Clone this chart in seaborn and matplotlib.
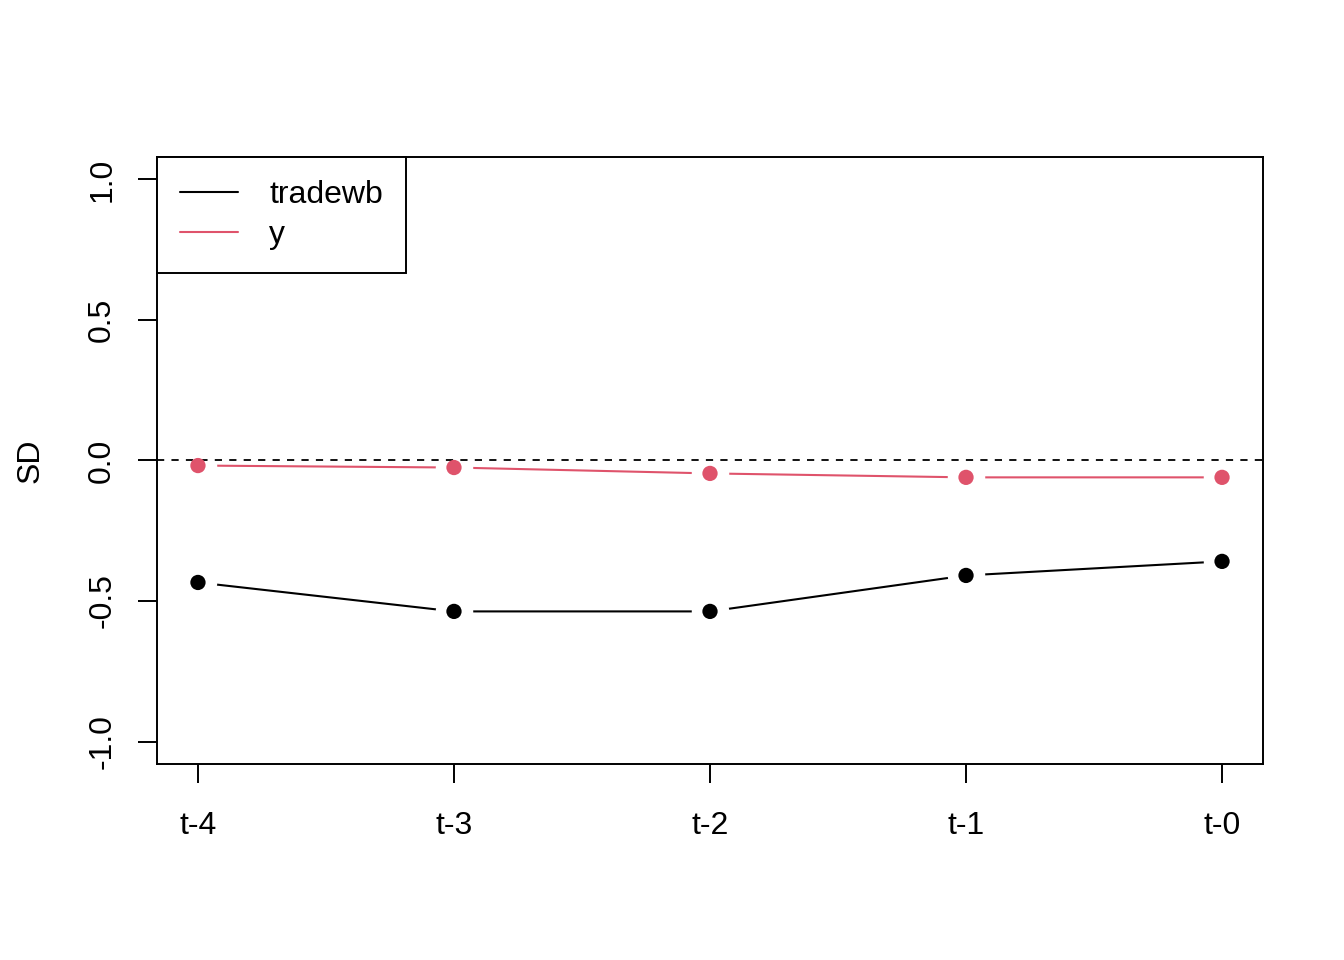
import matplotlib
matplotlib.use("Agg")
import matplotlib.pyplot as plt
import seaborn as sns
import pandas as pd
from matplotlib.lines import Line2D

periods = ["t-4", "t-3", "t-2", "t-1", "t-0"]
tradewb = [-0.434, -0.537, -0.537, -0.409, -0.359]
y_vals = [-0.018, -0.025, -0.046, -0.060, -0.060]
series_names = ["tradewb", "y"]
colors = ["#000000", "#DF536B"]
yticks = [-1.0, -0.5, 0.0, 0.5, 1.0]

sns.set_style("white")
plt.rcParams["font.family"] = ["Liberation Sans", "DejaVu Sans"]
plt.rcParams["text.color"] = "black"
plt.rcParams["axes.labelcolor"] = "black"
plt.rcParams["xtick.color"] = "black"
plt.rcParams["ytick.color"] = "black"
FS = 23

pos = list(range(1, len(periods) + 1))
df = pd.DataFrame({
    "x": pos * 2,
    "val": tradewb + y_vals,
    "series": [series_names[0]] * len(pos) + [series_names[1]] * len(pos),
})

fig = plt.figure(figsize=(13.44, 9.6), dpi=100)
ax = fig.add_axes([157 / 1344, 1 - 764 / 960, (1263 - 157) / 1344, (764 - 157) / 960])

palette = dict(zip(series_names, colors))
sns.lineplot(data=df, x="x", y="val", hue="series", palette=palette, ax=ax,
             linewidth=1.5, zorder=1, legend=False)
# white rings to create R type="b" gaps
sns.scatterplot(data=df, x="x", y="val", color="white", s=27 ** 2, ax=ax,
                linewidth=0, zorder=2, legend=False)
ax.axhline(0, color="black", linestyle=(0, (4, 4)), linewidth=1.3, zorder=3)
sns.scatterplot(data=df, x="x", y="val", hue="series", palette=palette, s=11 ** 2,
                ax=ax, linewidth=0, zorder=4, legend=False)

ax.set_xlim(0.84, 5.16)
ax.set_ylim(-1.08, 1.08)
ax.set_xticks(pos)
ax.set_xticklabels(periods, fontsize=FS)
ax.set_yticks(yticks)
ax.set_yticklabels([f"{v:.1f}" for v in yticks], fontsize=FS, rotation=90, va="center")
ax.tick_params(axis="both", direction="out", length=13.7, width=1.4, color="black",
               bottom=True, left=True, labelcolor="black")
ax.tick_params(axis="y", pad=15)
ax.tick_params(axis="x", pad=20.5)
ax.set_xlabel("")
ax.set_ylabel("SD", fontsize=FS, labelpad=30, color="black")
for sp in ax.spines.values():
    sp.set_color("black")
    sp.set_linewidth(1.4)

handles = [Line2D([], [], color=c, linewidth=1.5) for c in colors]
leg = ax.legend(handles, series_names, loc="upper left", fontsize=FS, frameon=True,
                fancybox=False, borderaxespad=0, handlelength=1.8, handletextpad=1.0,
                borderpad=0.72, labelspacing=0.32)
leg.get_frame().set_edgecolor("black")
leg.get_frame().set_linewidth(1.4)
leg.get_frame().set_alpha(1)
for t in leg.get_texts():
    t.set_color("black")

fig.savefig("out.png", dpi=100)
